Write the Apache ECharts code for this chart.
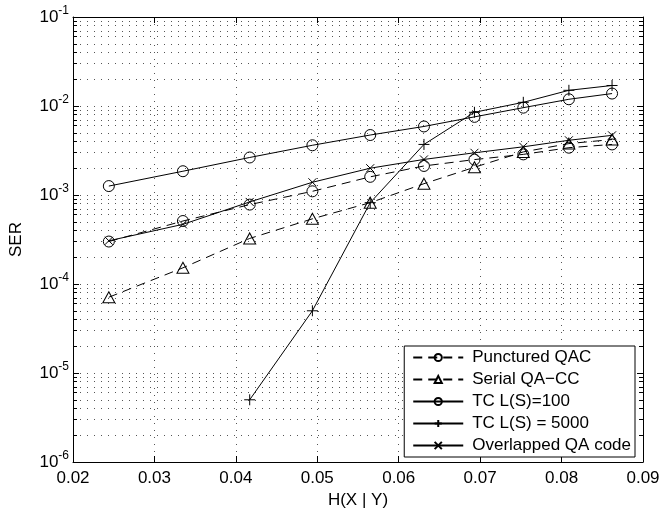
<!DOCTYPE html>
<html><head><meta charset="utf-8">
<script src="https://cdn.jsdelivr.net/npm/echarts@6/dist/echarts.min.js"></script>
<style>html,body{margin:0;padding:0;background:#fff}#c{width:663px;height:514px}</style>
</head><body><div id="c"></div>
<script>
// H(X|Y) values
const xValues = [0.0244, 0.0335, 0.0417, 0.0494, 0.0565, 0.0631, 0.0693, 0.0753, 0.0809, 0.0862];
const puncturedQAC = [3.0e-4, 5.1e-4, 7.8e-4, 1.1e-3, 1.6e-3, 2.12e-3, 2.5e-3, 2.86e-3, 3.4e-3, 3.7e-3];
const serialQACC   = [7.1e-5, 1.52e-4, 3.25e-4, 5.4e-4, 8.2e-4, 1.34e-3, 2.05e-3, 3.05e-3, 3.78e-3, 4.2e-3];
const tc100        = [1.26e-3, 1.85e-3, 2.64e-3, 3.62e-3, 4.72e-3, 5.89e-3, 7.55e-3, 9.58e-3, 1.19e-2, 1.38e-2];
const tc5000X      = [0.0417, 0.0494, 0.0565, 0.0631, 0.0693, 0.0753, 0.0809, 0.0862];
const tc5000       = [5.0e-6, 5.0e-5, 8.2e-4, 3.7e-3, 8.5e-3, 1.1e-2, 1.5e-2, 1.7e-2];
const overlappedQA = [3.06e-4, 4.68e-4, 8.36e-4, 1.39e-3, 2.0e-3, 2.51e-3, 2.98e-3, 3.48e-3, 4.12e-3, 4.68e-3];
const seriesNames = ['Punctured QAC', 'Serial QA\u2212CC', 'TC L(S)=100', 'TC L(S) = 5000', 'Overlapped QA code'];
const xTickMin = 0.02, xTickMax = 0.09, xTickStep = 0.01;
const yMin = 1e-6, yMax = 1e-1;

const FONT = '"Liberation Sans", Arial, Helvetica, sans-serif';
function pairs(xs, ys) { return ys.map((y, i) => [xs[i], y]); }
const dotted = { color: '#555', width: 1, type: [1, 6] };
const black = '#000';
const hollow = { color: 'none', borderColor: black, borderWidth: 1 };

const chart = echarts.init(document.getElementById('c'), null, { renderer: 'canvas' });
const yLabel = v => {
  const e = Math.round(Math.log10(v));
  return '{b|10}{s|' + (e < 0 ? '-' : '') + Math.abs(e) + '}';
};
const option = {
  animation: false,
  backgroundColor: '#fff',
  grid: { left: 72, right: 20, top: 17, bottom: 47 },
  xAxis: [{
    type: 'value', min: xTickMin, max: xTickMax, interval: xTickStep, position: 'bottom',
    name: 'H(X | Y)', nameLocation: 'middle', nameGap: 30,
    nameTextStyle: { fontFamily: FONT, fontSize: 17, color: black },
    axisLine: { onZero: false, lineStyle: { color: black, width: 1 } },
    axisTick: { inside: true, length: 6, lineStyle: { color: black } },
    axisLabel: { fontFamily: FONT, fontSize: 17, color: black, margin: 8, formatter: v => v.toFixed(2) },
    splitLine: { show: true, lineStyle: dotted }
  }, {
    type: 'value', min: xTickMin, max: xTickMax, interval: xTickStep, position: 'top',
    axisLine: { onZero: false, lineStyle: { color: black, width: 1 } },
    axisTick: { inside: true, length: 6, lineStyle: { color: black } },
    axisLabel: { show: false }, splitLine: { show: false }
  }],
  yAxis: [{
    type: 'log', logBase: 10, min: yMin, max: yMax, position: 'left',
    name: 'SER', nameLocation: 'middle', nameGap: 48,
    nameTextStyle: { fontFamily: FONT, fontSize: 17, color: black },
    axisLine: { onZero: false, lineStyle: { color: black, width: 1 } },
    axisTick: { inside: true, length: 6, lineStyle: { color: black } },
    minorTick: { show: true, splitNumber: 9, length: 4, lineStyle: { color: black } },
    minorSplitLine: { show: true, lineStyle: dotted },
    axisLabel: {
      margin: 4, formatter: yLabel,
      rich: {
        b: { fontFamily: FONT, fontSize: 17, color: black },
        s: { fontFamily: FONT, fontSize: 12, color: black, padding: [0, 0, 12, 0] }
      }
    },
    splitLine: { show: true, lineStyle: dotted }
  }, {
    type: 'log', logBase: 10, min: yMin, max: yMax, position: 'right',
    axisLine: { onZero: false, lineStyle: { color: black, width: 1 } },
    axisTick: { inside: true, length: 6, lineStyle: { color: black } },
    minorTick: { show: true, splitNumber: 9, length: 4, lineStyle: { color: black } },
    axisLabel: { show: false }, splitLine: { show: false }
  }],
  legend: {
    orient: 'vertical', right: 28, bottom: 57, align: 'left',
    backgroundColor: '#fff', borderColor: black, borderWidth: 1, borderRadius: 0,
    padding: [3, 4, 3, 8], itemWidth: 50, itemHeight: 9, itemGap: 5,
    textStyle: { fontFamily: FONT, fontSize: 17, color: black, padding: [0, 0, 0, 4] },
    data: seriesNames
  },
  series: [{
    name: seriesNames[0], type: 'line', data: pairs(xValues, puncturedQAC),
    symbol: 'circle', symbolSize: 11, lineStyle: { color: black, width: 1, type: [9, 6] }, itemStyle: hollow
  }, {
    name: seriesNames[1], type: 'line', data: pairs(xValues, serialQACC),
    symbol: 'triangle', symbolSize: [12, 11], lineStyle: { color: black, width: 1, type: [9, 6] }, itemStyle: hollow
  }, {
    name: seriesNames[2], type: 'line', data: pairs(xValues, tc100),
    symbol: 'circle', symbolSize: 11, lineStyle: { color: black, width: 1, type: 'solid' }, itemStyle: hollow
  }, {
    name: seriesNames[3], type: 'line', data: pairs(tc5000X, tc5000),
    symbol: 'path://M0,-1L0,1M-1,0L1,0', symbolSize: 11, symbolKeepAspect: true,
    lineStyle: { color: black, width: 1, type: 'solid' }, itemStyle: hollow
  }, {
    name: seriesNames[4], type: 'line', data: pairs(xValues, overlappedQA),
    symbol: 'path://M-1,-1L1,1M-1,1L1,-1', symbolSize: 8, symbolKeepAspect: true,
    lineStyle: { color: black, width: 1, type: 'solid' }, itemStyle: hollow
  }]
};
chart.setOption(option);
</script></body></html>
